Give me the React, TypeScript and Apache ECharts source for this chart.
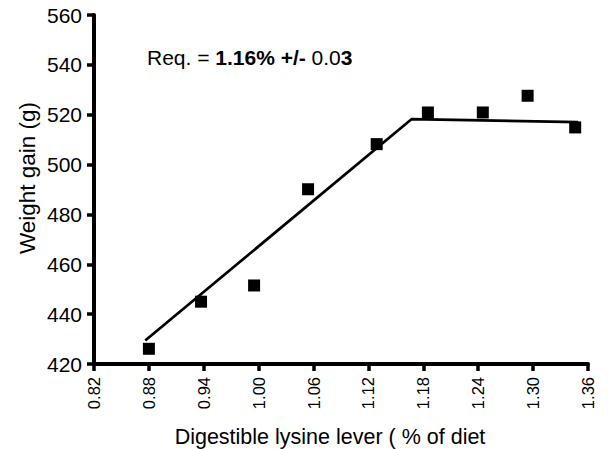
import React, { useEffect, useRef } from "react";
import * as echarts from "echarts";

const lysineLevel = [0.88, 0.937, 0.995, 1.054, 1.129, 1.185, 1.245, 1.294, 1.346];
const weightGain = [426.1, 445.0, 451.5, 490.1, 508.2, 520.9, 520.9, 527.6, 514.9];
const fitX = [0.876, 1.167, 1.349];
const fitY = [429.4, 518.2, 517.0];
const xTicks = [0.82, 0.88, 0.94, 1.0, 1.06, 1.12, 1.18, 1.24, 1.3, 1.36];
const yRange = [420, 560];
const yStep = 20;
const xTitle = "Digestible lysine lever ( % of diet";
const yTitle = "Weight gain (g)";

const FONT = "'Liberation Sans', Arial, Helvetica, sans-serif";

export default function App() {
  const ref = useRef<HTMLDivElement>(null);
  useEffect(() => {
    if (!ref.current) return;
    const chart = echarts.init(ref.current, undefined, { renderer: "svg" });
    chart.setOption({
      animation: false,
      backgroundColor: "#fff",
      grid: { left: 94, right: 20, top: 15, bottom: 85, containLabel: false },
      xAxis: {
        type: "value",
        min: xTicks[0],
        max: xTicks[xTicks.length - 1],
        axisLine: { show: true, onZero: false, lineStyle: { color: "#000", width: 4 } },
        splitLine: { show: false },
        axisTick: {
          show: true,
          customValues: xTicks,
          length: 7,
          lineStyle: { color: "#000", width: 3.5 },
        },
        axisLabel: {
          customValues: xTicks,
          rotate: 90,
          margin: 13,
          color: "#000",
          fontFamily: FONT,
          fontSize: 16.5,
          formatter: (v: number) => v.toFixed(2),
        },
      },
      yAxis: {
        type: "value",
        min: yRange[0],
        max: yRange[1],
        interval: yStep,
        axisLine: { show: true, onZero: false, lineStyle: { color: "#000", width: 4 } },
        splitLine: { show: false },
        axisTick: { show: true, length: 7, lineStyle: { color: "#000", width: 3.5 } },
        axisLabel: {
          margin: 12,
          color: "#000",
          fontFamily: FONT,
          fontSize: 21,
        },
      },
      graphic: [
        {
          type: "text",
          x: 330,
          y: 437,
          style: {
            text: xTitle,
            fill: "#000",
            font: `21.5px ${FONT}`,
            textAlign: "center",
            textVerticalAlign: "middle",
          },
        },
        {
          type: "text",
          x: 27,
          y: 178,
          rotation: Math.PI / 2,
          style: {
            text: yTitle,
            fill: "#000",
            font: `22.5px ${FONT}`,
            textAlign: "center",
            textVerticalAlign: "middle",
          },
        },
        {
          type: "text",
          x: 147,
          y: 57,
          style: {
            text: "{n|Req. = }{b|1.16% +/-}{n| 0.0}{b|3}",
            textVerticalAlign: "middle",
            rich: {
              n: { fontFamily: FONT, fontSize: 21, fill: "#000", color: "#000" },
              b: { fontFamily: FONT, fontSize: 21, fontWeight: "bold", fill: "#000", color: "#000" },
            },
          },
        },
      ],
      series: [
        {
          type: "line",
          data: fitX.map((x, i) => [x, fitY[i]]),
          showSymbol: false,
          symbol: "none",
          lineStyle: { color: "#000", width: 2.7 },
          z: 2,
        },
        {
          type: "scatter",
          data: lysineLevel.map((x, i) => [x, weightGain[i]]),
          symbol: "rect",
          symbolSize: 12,
          itemStyle: { color: "#000", opacity: 1 },
          z: 3,
        },
      ],
    });
    return () => chart.dispose();
  }, []);
  return <div ref={ref} style={{ width: 608, height: 449, marginTop: -8, marginLeft: -8 }} />;
}
